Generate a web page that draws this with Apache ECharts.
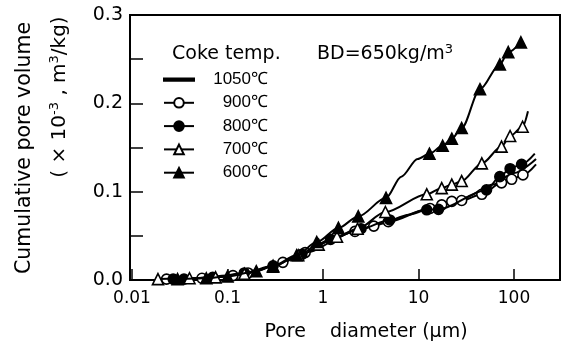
<!DOCTYPE html>
<html><head><meta charset="utf-8">
<script src="https://cdn.jsdelivr.net/npm/echarts@6/dist/echarts.min.js"></script>
<style>html,body{margin:0;padding:0;background:#fff}#c{width:564px;height:347px}</style>
</head><body><div id="c"></div>
<script>
const seriesNames = ['1050℃', '900℃', '800℃', '700℃', '600℃'];
const xTickLabels = ['0.01', '0.1', '1', '10', '100'];
const yTickLabels = ['0.0', '0.1', '0.2', '0.3'];

// 1050 ℃ : fitted curve only (no markers)
const d1050 = [0.02, 0.05, 0.1, 0.2, 0.4, 0.7, 1.2, 2, 4, 8, 15, 30, 60, 100, 170];
const v1050 = [0.001, 0.002, 0.005, 0.011, 0.021, 0.033, 0.045, 0.054, 0.064, 0.074, 0.083, 0.093, 0.108, 0.121, 0.137];

// 900 ℃ : open circles
const d900 = [0.023, 0.054, 0.114, 0.164, 0.38, 0.65, 2.16, 3.4, 4.83, 13.2, 17.5, 22.3, 28.3, 46, 74, 94.5, 124];
const v900 = [0.001, 0.002, 0.005, 0.008, 0.020, 0.031, 0.055, 0.061, 0.066, 0.081, 0.085, 0.089, 0.090, 0.097, 0.110, 0.114, 0.119];
const d900curve = [170];
const v900curve = [0.131];

// 800 ℃ : filled circles
const d800 = [0.027, 0.035, 0.07, 0.15, 0.3, 0.6, 1.2, 2.5, 5, 12.2, 16.2, 51.5, 71, 91, 120];
const v800 = [0.001, 0.001, 0.003, 0.008, 0.016, 0.029, 0.046, 0.058, 0.068, 0.0795, 0.080, 0.102, 0.117, 0.126, 0.131];
const d800curve = [165];
const v800curve = [0.143];

// 700 ℃ : open triangles
const d700 = [0.0187, 0.04, 0.075, 0.15, 0.3, 0.55, 0.9, 1.4, 2.3, 4.5, 12.2, 17.5, 22.3, 28.3, 46, 74, 91, 123];
const v700 = [0.001, 0.002, 0.003, 0.007, 0.015, 0.028, 0.040, 0.049, 0.058, 0.077, 0.097, 0.104, 0.108, 0.112, 0.132, 0.151, 0.163, 0.1735];
const d700curve = [140];
const v700curve = [0.191];

// 600 ℃ : filled triangles
const d600 = [0.03, 0.06, 0.1, 0.2, 0.3, 0.53, 0.86, 1.45, 2.34, 4.57, 13, 17.9, 22.3, 28.3, 44, 71, 87, 118];
const v600 = [0.001, 0.002, 0.004, 0.010, 0.016, 0.028, 0.043, 0.059, 0.072, 0.093, 0.143, 0.152, 0.160, 0.172, 0.216, 0.244, 0.258, 0.269];
const d600curve = [6.6, 9.8];
const v600curve = [0.117, 0.137];

function build(d, v, dc, vc) {
  const pts = d.map((x, i) => ({ value: [x, v[i]] }));
  (dc || []).forEach((x, i) => pts.push({ value: [x, vc[i]], symbol: 'none' }));
  pts.sort((a, b) => a.value[0] - b.value[0]);
  return pts;
}

const FONT = 'DejaVu Sans';
function lineSeries(name, data, symbol, fill, z) {
  return {
    type: 'line', name: name, data: data, z: z,
    smooth: 0.3, smoothMonotone: 'x',
    symbol: symbol, symbolSize: symbol === 'triangle' ? 11 : 10,
    showAllSymbol: true,
    lineStyle: { color: '#000', width: 2 },
    itemStyle: { color: fill, borderColor: '#000', borderWidth: 1.6 },
    emphasis: { disabled: true }
  };
}

const lineIcon = 'path://M0,0L0.01,0M0,5L30,5L30,7.2L0,7.2ZM0,12L0.01,12';

const chart = echarts.init(document.getElementById('c'), null, { renderer: 'canvas' });
chart.setOption({
  animation: false,
  backgroundColor: '#fff',
  grid: { left: 130, right: 4, top: 15, bottom: 67, show: true, borderColor: '#000', borderWidth: 2, backgroundColor: 'transparent' },
  xAxis: {
    type: 'log', logBase: 10, min: 0.00953, max: 303, splitNumber: 5,
    axisLine: { show: true, lineStyle: { color: '#000', width: 2 } },
    axisTick: { show: true, inside: true, length: 11, lineStyle: { color: '#000', width: 1.5 } },
    minorTick: { show: false },
    splitLine: { show: false },
    axisLabel: {
      color: '#000', fontSize: 17, fontFamily: FONT, margin: 10,
      formatter: function (v) {
        const e = Math.log10(v);
        const r = Math.round(e);
        if (Math.abs(e - r) > 0.01) return '';
        const idx = r + 2;
        return (idx >= 0 && idx < xTickLabels.length) ? xTickLabels[idx] : '';
      }
    }
  },
  yAxis: {
    type: 'value', min: 0, max: 0.3, interval: 0.05,
    axisLine: { show: true, lineStyle: { color: '#000', width: 2 } },
    axisTick: { show: true, inside: true, length: 13, lineStyle: { color: '#000', width: 1.5 } },
    splitLine: { show: false },
    axisLabel: {
      color: '#000', fontSize: 19, fontFamily: FONT, margin: 7,
      formatter: function (v) {
        const r = Math.round(v * 100);
        if (r % 10 !== 0) return '';
        return yTickLabels[r / 10] || '';
      }
    }
  },
  legend: {
    orient: 'vertical', left: 163, top: 71, padding: 0,
    itemWidth: 30, itemHeight: 12, itemGap: 6.3,
    data: [{ name: seriesNames[0], icon: lineIcon }, seriesNames[1], seriesNames[2], seriesNames[3], seriesNames[4]],
    formatter: function (n) { return '{a|' + n + '}'; },
    textStyle: {
      color: '#000', fontFamily: 'Liberation Sans', fontSize: 17,
      rich: { a: { width: 69, align: 'right', fontSize: 17, lineHeight: 16, fontFamily: 'Liberation Sans', color: '#000' } }
    }
  },
  graphic: [
    { type: 'text', x: 172, y: 54, style: { text: 'Coke temp.', font: '19px "DejaVu Sans"', fill: '#000', textAlign: 'left', textVerticalAlign: 'middle' } },
    { type: 'text', x: 317, y: 54, style: {
        text: '{n|BD=650kg/m}{s|3}', textAlign: 'left', textVerticalAlign: 'middle',
        rich: { n: { fontFamily: FONT, fontSize: 19, fill: '#000', lineHeight: 22 },
                s: { fontFamily: FONT, fontSize: 13, fill: '#000', verticalAlign: 'top', lineHeight: 14 } } } },
    { type: 'text', x: 25, y: 148, rotation: Math.PI / 2, style: {
        text: 'Cumulative pore volume', font: '20.5px "DejaVu Sans"', fill: '#000', textAlign: 'center', textVerticalAlign: 'middle' } },
    { type: 'text', x: 60, y: 97, rotation: Math.PI / 2, style: {
        text: '{n|( × 10}{s|-3}{n| , m}{s|3}{n|/kg)}', textAlign: 'center', textVerticalAlign: 'middle',
        rich: { n: { fontFamily: FONT, fontSize: 20, fill: '#000', lineHeight: 24 },
                s: { fontFamily: FONT, fontSize: 13, fill: '#000', verticalAlign: 'top', lineHeight: 14 } } } },
    { type: 'text', x: 366, y: 332, style: { text: 'Pore    diameter (µm)', font: '19px "DejaVu Sans"', fill: '#000', textAlign: 'center', textVerticalAlign: 'middle' } }
  ],
  series: [
    lineSeries(seriesNames[0], build(d1050, v1050), 'none', '#000', 2),
    lineSeries(seriesNames[1], build(d900, v900, d900curve, v900curve), 'circle', '#fff', 3),
    lineSeries(seriesNames[2], build(d800, v800, d800curve, v800curve), 'circle', '#000', 4),
    lineSeries(seriesNames[3], build(d700, v700, d700curve, v700curve), 'triangle', '#fff', 5),
    lineSeries(seriesNames[4], build(d600, v600, d600curve, v600curve), 'triangle', '#000', 6)
  ]
});
</script>
</body></html>
